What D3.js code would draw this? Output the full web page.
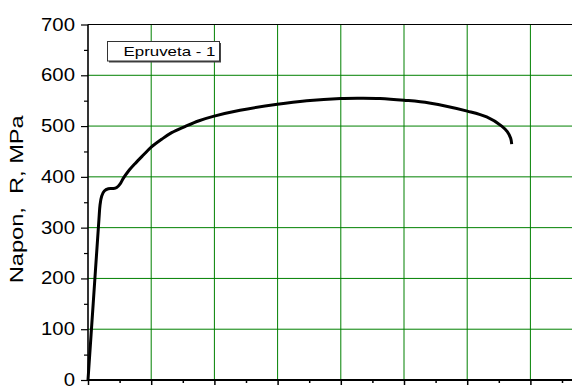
<!DOCTYPE html>
<html>
<head>
<meta charset="utf-8">
<script src="https://cdn.jsdelivr.net/npm/d3@7"></script>
<style>
  body { margin: 0; background: #fff; }
  svg { display: block; }
  text { font-family: "Liberation Sans", Arial, sans-serif; fill: #000; }
</style>
</head>
<body>
<div id="chart"></div>
<script>
// Stress-strain curve
const strain = [0, 0.41, 0.87, 0.95, 1.08, 1.29, 1.61, 2.00, 2.27, 2.53, 2.79, 3.19, 3.72, 4.38, 4.98,
  5.83, 6.62, 7.67, 8.73, 9.91, 12.03, 14.98, 17.30, 19.99, 21.52, 23.10, 25.00, 27.00, 30.01,
  31.54, 32.73, 33.17, 33.44, 33.52];
const stress = [0, 150, 318, 344, 362, 372, 376.5, 377, 379, 385.6, 397, 411, 426, 443, 458,
  474, 487, 499, 510, 519, 531, 543, 550, 554.5, 555, 554.5, 551, 545.5, 529.5,
  518, 500, 489, 476, 464.6];

const yTicks = [0, 100, 200, 300, 400, 500, 600, 700];
const yMinor = [50, 150, 250, 350, 450, 550, 650];
const xTicks = [0, 5, 10, 15, 20, 25, 30, 35, 40];
const xMinor = [2.5, 7.5, 12.5, 17.5, 22.5, 27.5, 32.5, 37.5];
const yGrid = [100, 200, 300, 400, 500, 600];
const xGrid = [5, 10, 15, 20, 25, 30, 35];
const legendLabel = 'Epruveta - 1';
const yTitle = 'Napon,  R, MPa';

const W = 572, H = 388;
const mLeft = 88, mTop = 24.5, mBottom = 380, mRight = 88 + 8 * 63.2;

const svg = d3.select('#chart').append('svg').attr('width', W).attr('height', H);

const x = d3.scaleLinear().domain([0, 40]).range([mLeft, mRight]);
const y = d3.scaleLinear().domain([0, 700]).range([mBottom, mTop]);

const green = '#008000';

// grid
svg.append('g').selectAll('line').data(yGrid).join('line')
  .attr('x1', mLeft).attr('x2', mRight)
  .attr('y1', d => y(d)).attr('y2', d => y(d))
  .attr('stroke', green).attr('stroke-width', 1);

svg.append('g').selectAll('line').data(xGrid).join('line')
  .attr('x1', d => x(d)).attr('x2', d => x(d))
  .attr('y1', mTop).attr('y2', mBottom)
  .attr('stroke', green).attr('stroke-width', 1);

// frame top
svg.append('line').attr('x1', mLeft).attr('x2', mRight).attr('y1', mTop).attr('y2', mTop)
  .attr('stroke', '#000').attr('stroke-width', 1);

// y axis
const yAxis = svg.append('g').attr('transform', `translate(${mLeft},0)`)
  .call(d3.axisLeft(y).tickValues(yTicks).tickSize(7).tickPadding(6));
yAxis.select('.domain').remove();
yAxis.selectAll('.tick line').attr('stroke', '#000').attr('stroke-width', 1.2);
yAxis.selectAll('text')
  .attr('font-size', 18.5).attr('font-family', '"Liberation Sans", Arial, sans-serif')
  .attr('dy', '0.3em')
  .each(function () {
    const w = this.getComputedTextLength();
    d3.select(this).attr('textLength', w * 1.1).attr('lengthAdjust', 'spacingAndGlyphs');
  });

const yAxisMinor = svg.append('g').attr('transform', `translate(${mLeft},0)`)
  .call(d3.axisLeft(y).tickValues(yMinor).tickSize(4).tickFormat(''));
yAxisMinor.select('.domain').remove();
yAxisMinor.selectAll('.tick line').attr('stroke', '#000').attr('stroke-width', 1.2);

// x axis (labels fall below the visible area)
const xAxis = svg.append('g').attr('transform', `translate(0,${mBottom})`)
  .call(d3.axisBottom(x).tickValues(xTicks).tickSize(5).tickFormat(''));
xAxis.select('.domain').remove();
xAxis.selectAll('.tick line').attr('stroke', '#000').attr('stroke-width', 1.5);

const xAxisMinor = svg.append('g').attr('transform', `translate(0,${mBottom})`)
  .call(d3.axisBottom(x).tickValues(xMinor).tickSize(3).tickFormat(''));
xAxisMinor.select('.domain').remove();
xAxisMinor.selectAll('.tick line').attr('stroke', '#000').attr('stroke-width', 1.5);

svg.append('line').attr('x1', mLeft).attr('x2', mLeft).attr('y1', mTop).attr('y2', mBottom)
  .attr('stroke', '#000').attr('stroke-width', 1.6);
svg.append('line').attr('x1', mLeft - 1).attr('x2', mRight).attr('y1', mBottom).attr('y2', mBottom)
  .attr('stroke', '#000').attr('stroke-width', 2);

// axis title
svg.append('text')
  .attr('transform', `translate(22.5,${(mTop + mBottom) / 2 - 3}) rotate(-90)`)
  .attr('text-anchor', 'middle')
  .attr('font-size', 18.5)
  .style('white-space', 'pre')
  .attr('textLength', 168).attr('lengthAdjust', 'spacingAndGlyphs')
  .text(yTitle);

// curve
const line = d3.line()
  .x((d, i) => x(strain[i]))
  .y(d => y(d))
  .curve(d3.curveCatmullRom.alpha(0.5));

svg.append('path')
  .datum(stress)
  .attr('d', line)
  .attr('fill', 'none')
  .attr('stroke', '#000')
  .attr('stroke-width', 3)
  .attr('stroke-linejoin', 'round');

// legend
const lg = svg.append('g').attr('transform', 'translate(107.5,41.5)');
lg.append('rect').attr('x', 1.5).attr('y', 1.5).attr('width', 112).attr('height', 19.5)
  .attr('fill', '#444');
lg.append('rect').attr('width', 112).attr('height', 19.5)
  .attr('fill', '#fff').attr('stroke', '#333').attr('stroke-width', 1);
lg.append('text').attr('x', 16).attr('y', 14.3)
  .attr('font-size', 13.5)
  .attr('textLength', 92).attr('lengthAdjust', 'spacingAndGlyphs')
  .text(legendLabel);
</script>
</body>
</html>
